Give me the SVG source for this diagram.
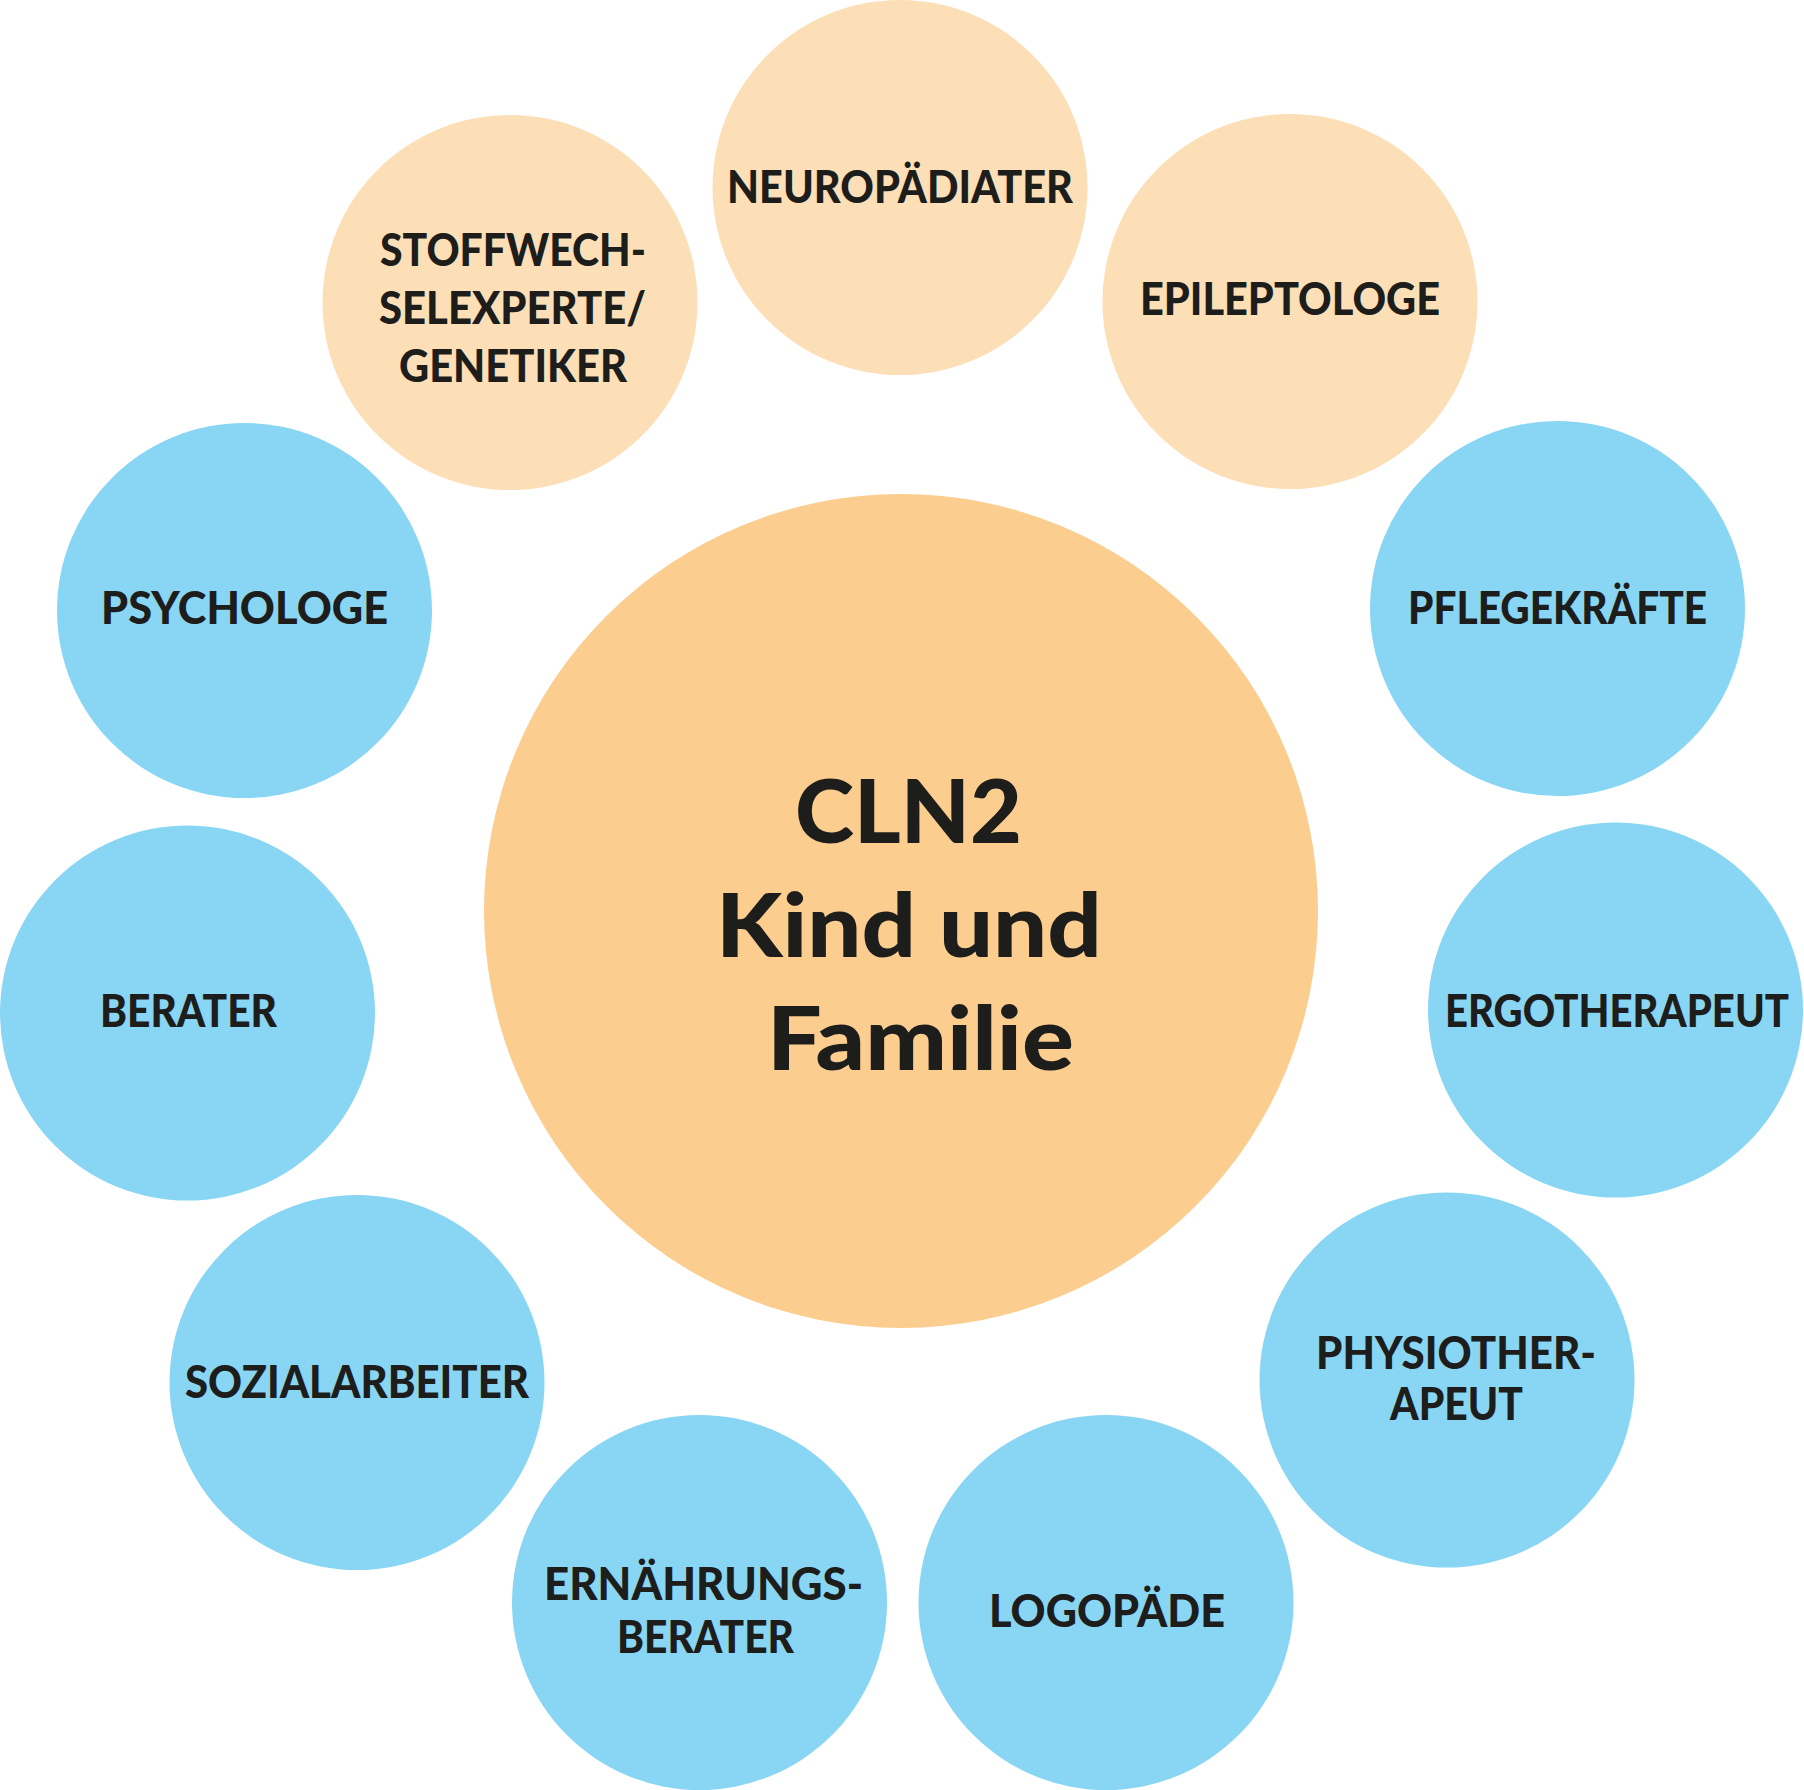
<svg xmlns="http://www.w3.org/2000/svg" width="1804" height="1790" viewBox="0 0 1804 1790">
<style>
.pe{fill:#FCDFB6}
.bg{fill:#FBCD8F}
.bl{fill:#88D6F4}
.t{font-family:Lato,"Noto Sans","Liberation Sans",sans-serif;font-weight:900;font-size:46px;fill:#1D1D1B}
.c{font-family:Lato,"Noto Sans","Liberation Sans",sans-serif;font-weight:900;font-size:88px;fill:#1D1D1B}
</style>
<rect width="1804" height="1790" fill="#FFFFFF"/>
<g id="connectors"></g>
<g id="center">
<circle class="bg" cx="901" cy="911" r="417"/>
<text class="c" x="795" y="843" textLength="227" lengthAdjust="spacingAndGlyphs">CLN2</text>
<text class="c" x="716" y="957" textLength="386" lengthAdjust="spacingAndGlyphs">Kind und</text>
<text class="c" x="767" y="1070" textLength="307" lengthAdjust="spacingAndGlyphs">Familie</text>
</g>
<g id="neuropaediater">
<circle class="pe" cx="900" cy="187.5" r="187.5"/>
<text class="t" x="727" y="202.5" textLength="346" lengthAdjust="spacingAndGlyphs">NEUROPÄDIATER</text>
</g>
<g id="epileptologe">
<circle class="pe" cx="1290" cy="301.5" r="187.5"/>
<text class="t" x="1140" y="315" textLength="300" lengthAdjust="spacingAndGlyphs">EPILEPTOLOGE</text>
</g>
<g id="stoffwechsel">
<circle class="pe" cx="510" cy="302.5" r="187.5"/>
<text class="t" x="380" y="265.5" textLength="266" lengthAdjust="spacingAndGlyphs">STOFFWECH-</text>
<text class="t" x="379" y="324" textLength="267" lengthAdjust="spacingAndGlyphs">SELEXPERTE/</text>
<text class="t" x="399" y="381.5" textLength="228" lengthAdjust="spacingAndGlyphs">GENETIKER</text>
</g>
<g id="psychologe">
<circle class="bl" cx="244.5" cy="610.5" r="187.5"/>
<text class="t" x="101" y="624" textLength="287" lengthAdjust="spacingAndGlyphs">PSYCHOLOGE</text>
</g>
<g id="pflegekraefte">
<circle class="bl" cx="1557.5" cy="608.5" r="187.5"/>
<text class="t" x="1408" y="623.5" textLength="299" lengthAdjust="spacingAndGlyphs">PFLEGEKRÄFTE</text>
</g>
<g id="berater">
<circle class="bl" cx="187.5" cy="1013" r="187.5"/>
<text class="t" x="100" y="1026.5" textLength="177" lengthAdjust="spacingAndGlyphs">BERATER</text>
</g>
<g id="ergotherapeut">
<circle class="bl" cx="1615.5" cy="1010" r="187.5"/>
<text class="t" x="1445" y="1026.5" textLength="344" lengthAdjust="spacingAndGlyphs">ERGOTHERAPEUT</text>
</g>
<g id="sozialarbeiter">
<circle class="bl" cx="357" cy="1382.5" r="187.5"/>
<text class="t" x="185" y="1397.5" textLength="344" lengthAdjust="spacingAndGlyphs">SOZIALARBEITER</text>
</g>
<g id="physiotherapeut">
<circle class="bl" cx="1447" cy="1380" r="187.5"/>
<text class="t" x="1316" y="1369" textLength="280" lengthAdjust="spacingAndGlyphs">PHYSIOTHER-</text>
<text class="t" x="1390" y="1420" textLength="133" lengthAdjust="spacingAndGlyphs">APEUT</text>
</g>
<g id="ernaehrungsberater">
<circle class="bl" cx="699.5" cy="1602.5" r="187.5"/>
<text class="t" x="544" y="1600" textLength="319" lengthAdjust="spacingAndGlyphs">ERNÄHRUNGS-</text>
<text class="t" x="617" y="1652.5" textLength="177" lengthAdjust="spacingAndGlyphs">BERATER</text>
</g>
<g id="logopaede">
<circle class="bl" cx="1106" cy="1602.5" r="187.5"/>
<text class="t" x="989" y="1627" textLength="236" lengthAdjust="spacingAndGlyphs">LOGOPÄDE</text>
</g>
</svg>
